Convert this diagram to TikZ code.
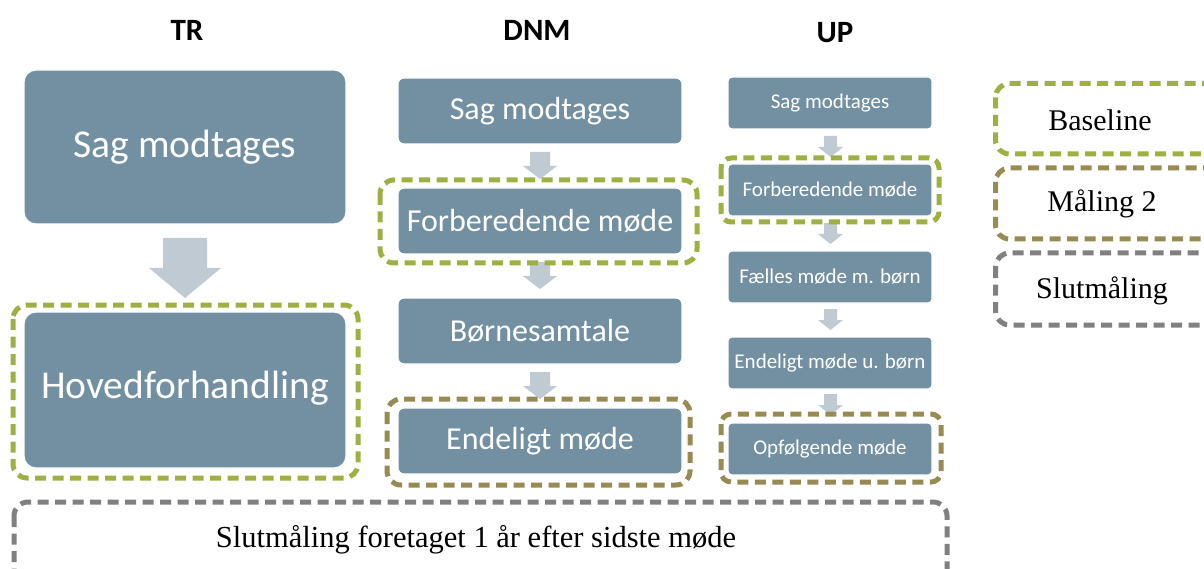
\documentclass[tikz,border=0pt]{standalone}
\usepackage{fontspec}
\setmainfont{Liberation Serif}
\newfontfamily\calfont{Carlito}
\definecolor{boxfill}{HTML}{7390A3}
\definecolor{arrowc}{HTML}{BFCAD2}
\definecolor{greenc}{HTML}{9DB042}
\definecolor{olivec}{HTML}{978A53}
\definecolor{grayc}{HTML}{808080}
\tikzset{
  x=1pt,y=-1pt,
  stage/.style={fill=boxfill,draw=white,line width=1.2pt,text=white,inner sep=0pt},
  dashbox/.style={line width=5pt,dash pattern=on 11pt off 6.5pt,rounded corners=14pt},
  flowarrow/.style={fill=arrowc,draw=none},
}
\newcommand{\fs}[1]{\fontsize{#1}{#1}\selectfont}
\begin{document}
\begin{tikzpicture}
\clip (0,0) rectangle (1204,569);
\fill[white] (0,0) rectangle (1204,569);
% titles
\node[font=\calfont\bfseries\fs{31}] (tTR) at (187,30) {TR};
\node[font=\calfont\bfseries\fs{31}] (tDNM) at (537,30) {DNM};
\node[font=\calfont\bfseries\fs{31}] (tUP) at (835,33) {UP};

% TR column
\draw[stage,rounded corners=12pt] (24,70) rectangle (346,224);
\node[text=white,font=\calfont\fs{39.5}] (tr1) at (185,147) {Sag modtages};
\draw[stage,rounded corners=12pt] (24,312) rectangle (346,468);
\node[text=white,font=\calfont\fs{39.5}] (tr2) at (185,388) {Hovedforhandling};
\fill[flowarrow] (163,238) -- (207,238) -- (207,268) -- (221,268) -- (185,298) -- (149,268) -- (163,268) -- cycle;
\draw[dashbox,greenc] (13,305) rectangle (358,478);

% DNM column
\foreach \y/\t/\n in {78/Sag modtages/d1,188/Forberedende møde/d2,298/Børnesamtale/d3,408/Endeligt møde/d4}{
  \draw[stage,rounded corners=6pt] (398,\y) rectangle (682,\y+66);
  \node[text=white,font=\calfont\fs{32}] (\n) at (540,\y+33) {\t};
}
\foreach \y in {152,262,372}{
  \fill[flowarrow] (530,\y) -- (550,\y) -- (550,\y+14) -- (557,\y+14) -- (540,\y+27) -- (523,\y+14) -- (530,\y+14) -- cycle;
}
\draw[dashbox,greenc] (380,180) rectangle (697,263);
\draw[dashbox,olivec] (387,399) rectangle (690,485);

% UP column
\foreach \y/\t/\n in {77/Sag modtages/u1,164/Forberedende møde/u2,251/Fælles møde m. børn/u3,337/Endeligt møde u. børn/u4,423/Opfølgende møde/u5}{
  \draw[stage,rounded corners=4pt] (728,\y) rectangle (932,\y+52);
  \node[text=white,font=\calfont\fs{21}] (\n) at (830,\y+26) {\t};
}
\foreach \y in {136,223,309,394}{
  \fill[flowarrow] (824,\y) -- (837,\y) -- (837,\y+11) -- (843,\y+11) -- (830.5,\y+21) -- (818,\y+11) -- (824,\y+11) -- cycle;
}
\draw[dashbox,greenc,rounded corners=10pt] (721,158) rectangle (939,222);
\draw[dashbox,olivec,rounded corners=10pt] (721,414) rectangle (941,482);

% legend
\draw[dashbox,greenc] (995.5,83.5) rectangle (1225,154);
\node[font=\fs{30}] (lb) at (1100,120) {Baseline};
\draw[dashbox,olivec] (995.5,168) rectangle (1225,239);
\node[font=\fs{30}] (lm) at (1102,204) {Måling 2};
\draw[dashbox,grayc] (995.5,253) rectangle (1225,325);
\node[font=\fs{30}] (ls) at (1102,291) {Slutmåling};

% bottom
\draw[dashbox,grayc] (14,502) rectangle (947,600);
\node[font=\fs{30.5}] (bt) at (476,540) {Slutmåling foretaget 1 år efter sidste møde};
\end{tikzpicture}
\end{document}
